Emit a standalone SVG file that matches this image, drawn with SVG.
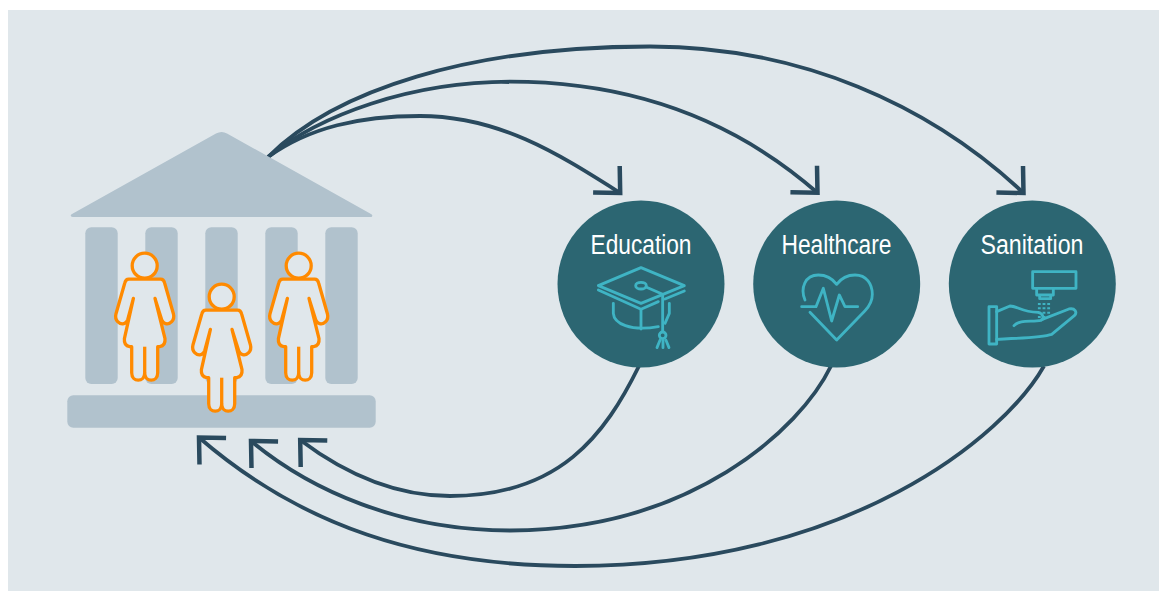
<svg xmlns="http://www.w3.org/2000/svg" width="1159" height="591" viewBox="0 0 1159 591">
<style>
.stone{fill:#b1c2cd}
.conn{fill:none;stroke:#2a4a5e;stroke-width:3.800}
.out{marker-end:url(#head-down)}
.back{marker-end:url(#head-up)}
.disc{fill:#2c6672}
.label{font-family:"Liberation Sans Narrow","Liberation Sans",Arial,sans-serif;font-size:27px;fill:#fff}
.icon{fill:none;stroke:#3fb4c4;stroke-width:8.500;stroke-linecap:round;stroke-linejoin:round}
.person{fill:#e0e7eb;stroke:#ff8a00;stroke-width:3.300;stroke-linejoin:round;stroke-linecap:butt}
</style>
<defs>
<marker id="head-down" markerUnits="userSpaceOnUse" markerWidth="50" markerHeight="60" refX="30" refY="30" orient="45" overflow="visible">
<path d="M10.500,11.200 L30,30 L10.500,48.800" fill="none" stroke="#2a4a5e" stroke-width="4.500"/>
</marker>
<marker id="head-up" markerUnits="userSpaceOnUse" markerWidth="50" markerHeight="60" refX="30" refY="30" orient="225" overflow="visible">
<path d="M10.500,11.200 L30,30 L10.500,48.800" fill="none" stroke="#2a4a5e" stroke-width="4.500"/>
</marker>
<g id="woman">
<circle cx="0" cy="0" r="12.500"/>
<path d="M-16,13.500 H16 Q19,13.500 20,17.500 L28.700,48 C30.500,55 25,59 21,58 Q18,57 17,54 L10.300,32.700 L20.300,73 Q21,80 15,81 H13 V107 C13,117 0,117 0,107 C0,117 -13,117 -13,107 V81 H-15 Q-21,80 -20.300,73 L-11.300,32.700 L-17,54 Q-18,57 -21,58 C-25,59 -30.500,55 -28.700,48 L-20,17.500 Q-19,13.500 -16,13.500 Z"/>
<path d="M0,81 V107" fill="none"/>
</g>
</defs>
<rect x="8" y="10" width="1151" height="581" fill="#e0e7eb"/>
<g id="connectors">
<path class="conn out" d="M268,157 C310,127 360,116 420,116 C500,116 560,155 620.200,193"/>
<path class="conn out" d="M268,157 C320,115 410,82 510,81.700 C640,81.700 740,125 817.500,192.800"/>
<path class="conn out" d="M268,157 C335,90 470,46.500 650,46.500 C800,46.500 930,105 1023.500,193"/>
<path class="conn back" d="M639,366 C605,435 560,496 450,496 C390,496 340,470 300.200,440"/>
<path class="conn back" d="M831,366 C800,430 690,530 510,530.500 C400,530.500 310,490 251,441"/>
<path class="conn back" d="M1044,366 C1005,435 850,566 575,566 C420,566 300,525 199,437.500"/>
</g>
<g id="building">
<path class="stone" d="M71,216 Q70,215 72,214 L216,133.500 Q221.700,130.500 227,133.500 L371,214 Q373,215 372,216.500 Q372,217 370,217 H73 Q71,217 71,216 Z"/>
<rect class="stone" x="85.300" y="227.300" width="32.400" height="156.700" rx="6"/>
<rect class="stone" x="145.300" y="227.300" width="32.400" height="156.700" rx="6"/>
<rect class="stone" x="205.300" y="227.300" width="32.400" height="156.700" rx="6"/>
<rect class="stone" x="265.300" y="227.300" width="32.400" height="156.700" rx="6"/>
<rect class="stone" x="325.300" y="227.300" width="32.400" height="156.700" rx="6"/>
<rect class="stone" x="67.300" y="395.300" width="308.400" height="32.400" rx="6"/>
</g>
<g id="person-1" class="person"><use href="#woman" x="144.700" y="265.700"/></g>
<g id="person-2" class="person"><use href="#woman" x="221.700" y="296.700"/></g>
<g id="person-3" class="person"><use href="#woman" x="298.700" y="265.700"/></g>
<g id="education">
<circle class="disc" cx="641" cy="284" r="83.500"/>
<text class="label" x="590.500" y="254.300" textLength="101" lengthAdjust="spacingAndGlyphs">Education</text>
<g class="icon" transform="translate(550,195) scale(.3333)">
<path d="M273,218 L403,272 L273,325 L145,272 Z"/>
<path d="M145,285 L273,343 L325,320 M345,312 L403,288"/>
<ellipse cx="273" cy="272" rx="16" ry="10"/>
<path d="M288,276 L338,298 V410"/>
<circle cx="338" cy="421" r="10"/>
<path d="M190,325 V355 C192,385 240,410 325,395"/>
<path d="M273,345 V402"/>
<path d="M358,325 V355 L345,385"/>
<path d="M330,436 L321,458 M339,436 V458 M348,436 L357,458"/>
</g>
</g>
<g id="healthcare">
<circle class="disc" cx="836.700" cy="284" r="83.500"/>
<text class="label" x="781.500" y="254.300" textLength="110" lengthAdjust="spacingAndGlyphs">Healthcare</text>
<g class="icon" transform="translate(750,195) scale(.3333)">
<path d="M165,315 C150,280 165,240 205,240 C228,240 248,252 260,268 C272,252 292,240 315,240 C350,240 367,268 367,298 C367,318 358,334 345,347 L260,435 L180,352"/>
<path d="M155,335 H198 L220,280 L245,378 L268,300 L285,335 H323"/>
</g>
</g>
<g id="sanitation">
<circle class="disc" cx="1032.300" cy="284" r="83.500"/>
<text class="label" x="980.500" y="254.300" textLength="103" lengthAdjust="spacingAndGlyphs">Sanitation</text>
<g class="icon" transform="translate(945,195) scale(.3333)">
<path d="M263,230 H393 V280 H263 Z"/>
<path d="M275,282 V300 H325 V282 M284,300 V311 H317 V300"/>
<path d="M283,324 V370 M297,324 V370 M311,324 V370" stroke-dasharray="6 7" stroke-linecap="butt"/>
<path d="M132,335 H155 V447 H132 Z"/>
<path d="M155,350 L195,333 C225,335 225,350 280,352 C295,355 298,372 288,376 C260,382 225,372 207,392"/>
<path d="M290,374 L372,342 C390,338 398,352 388,362 L320,418 C290,428 220,430 155,433"/>
</g>
</g>
</svg>
